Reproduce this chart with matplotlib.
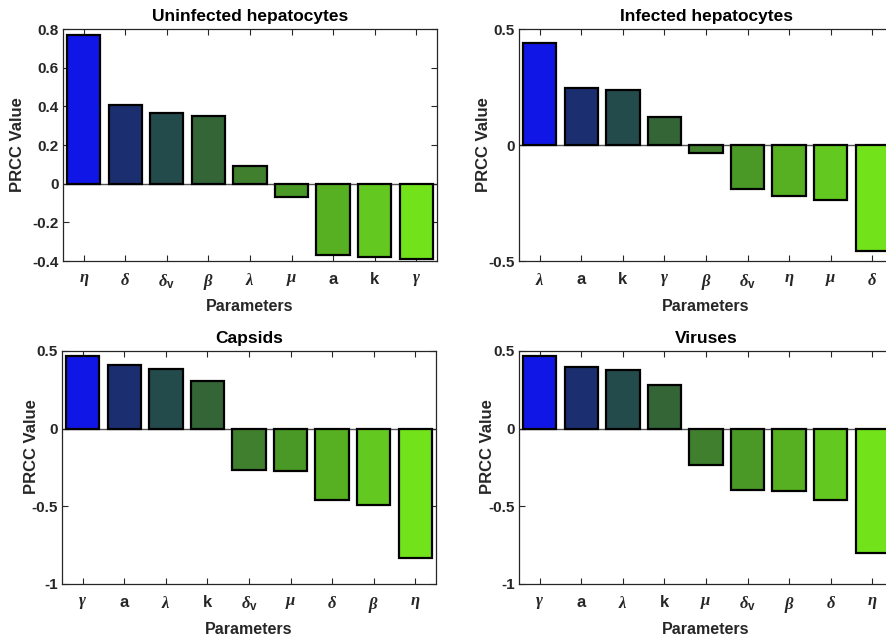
import matplotlib
matplotlib.use("Agg")
import matplotlib.pyplot as plt

plt.rcParams["font.family"] = ["Liberation Sans", "DejaVu Sans"]
plt.rcParams["font.weight"] = "bold"
plt.rcParams["mathtext.fontset"] = "custom"
plt.rcParams["mathtext.it"] = "Liberation Serif:italic:bold"
plt.rcParams["mathtext.rm"] = "Liberation Serif:bold"
plt.rcParams["mathtext.bf"] = "Liberation Sans:bold"

# --- PRCC results per state variable (sorted by value) ---
uninf_params = [r"$\eta$", r"$\delta$", r"$\delta_{\mathbf{v}}$", r"$\beta$", r"$\lambda$", r"$\mu$", "a", "k", r"$\gamma$"]
uninf_prcc = [0.767, 0.406, 0.366, 0.349, 0.092, -0.071, -0.371, -0.377, -0.389]

inf_params = [r"$\lambda$", "a", "k", r"$\gamma$", r"$\beta$", r"$\delta_{\mathbf{v}}$", r"$\eta$", r"$\mu$", r"$\delta$"]
inf_prcc = [0.438, 0.245, 0.236, 0.120, -0.033, -0.189, -0.219, -0.239, -0.455]

caps_params = [r"$\gamma$", "a", r"$\lambda$", "k", r"$\delta_{\mathbf{v}}$", r"$\mu$", r"$\delta$", r"$\beta$", r"$\eta$"]
caps_prcc = [0.466, 0.407, 0.386, 0.304, -0.265, -0.272, -0.457, -0.491, -0.832]

vir_params = [r"$\gamma$", "a", r"$\lambda$", "k", r"$\mu$", r"$\delta_{\mathbf{v}}$", r"$\beta$", r"$\delta$", r"$\eta$"]
vir_prcc = [0.470, 0.394, 0.377, 0.284, -0.233, -0.397, -0.403, -0.457, -0.802]

titles = ["Uninfected hepatocytes", "Infected hepatocytes", "Capsids", "Viruses"]

# bar colours run from blue to light green by rank
bar_colors = ["#1016E6", "#1B2F70", "#244B4B", "#336537", "#3F7F2E",
              "#4A9826", "#56B022", "#63C81F", "#72E31B"]

panels = [
    (uninf_params, uninf_prcc, titles[0], (-0.4, 0.8), [-0.4, -0.2, 0, 0.2, 0.4, 0.6, 0.8],
     ["-0.4", "-0.2", "0", "0.2", "0.4", "0.6", "0.8"], [0.0711, 0.5947, 0.4221, 0.3602], (-0.102, 0.5)),
    (inf_params, inf_prcc, titles[1], (-0.5, 0.5), [-0.5, 0, 0.5],
     ["-0.5", "0", "0.5"], [0.5858, 0.5947, 0.4221, 0.3602], (-0.075, 0.5)),
    (caps_params, caps_prcc, titles[2], (-1, 0.5), [-1, -0.5, 0, 0.5],
     ["-1", "-0.5", "0", "0.5"], [0.0700, 0.0932, 0.4221, 0.3618], (-0.061, 0.588)),
    (vir_params, vir_prcc, titles[3], (-1, 0.5), [-1, -0.5, 0, 0.5],
     ["-1", "-0.5", "0", "0.5"], [0.5858, 0.0932, 0.4221, 0.3618], (-0.064, 0.59)),
]

fig = plt.figure(figsize=(8.86, 6.44), dpi=100)
axis_col = "#262626"

for params, vals, title, ylim, yticks, ylabels, rect, ylab_pos in panels:
    ax = fig.add_axes(rect)
    x = list(range(1, len(vals) + 1))
    ax.axhline(0, color="#555555", lw=1.0, zorder=1)
    ax.bar(x, vals, width=0.8, color=bar_colors, edgecolor="black", linewidth=1.6, zorder=2)
    ax.set_xlim(0.5, 9.5)
    ax.set_ylim(*ylim)
    ax.set_xticks(x)
    ax.set_xticklabels(params, fontsize=12)
    ax.set_yticks(yticks)
    ax.set_yticklabels(ylabels, fontsize=11)
    ax.tick_params(direction="in", length=4, width=0.8, color=axis_col, labelcolor=axis_col,
                   top=True, right=True, pad=8)
    ax.tick_params(axis="y", pad=3)
    for s in ax.spines.values():
        s.set_color(axis_col)
        s.set_linewidth(0.9)
    ax.set_title(title, fontsize=12.5, fontweight="bold", pad=6)
    ax.set_xlabel("Parameters", fontsize=11.5, fontweight="bold", color=axis_col, labelpad=5)
    ax.set_ylabel("PRCC Value", fontsize=12, fontweight="bold", color=axis_col)
    ax.yaxis.set_label_coords(*ylab_pos)

fig.savefig("out.png", dpi=100)
